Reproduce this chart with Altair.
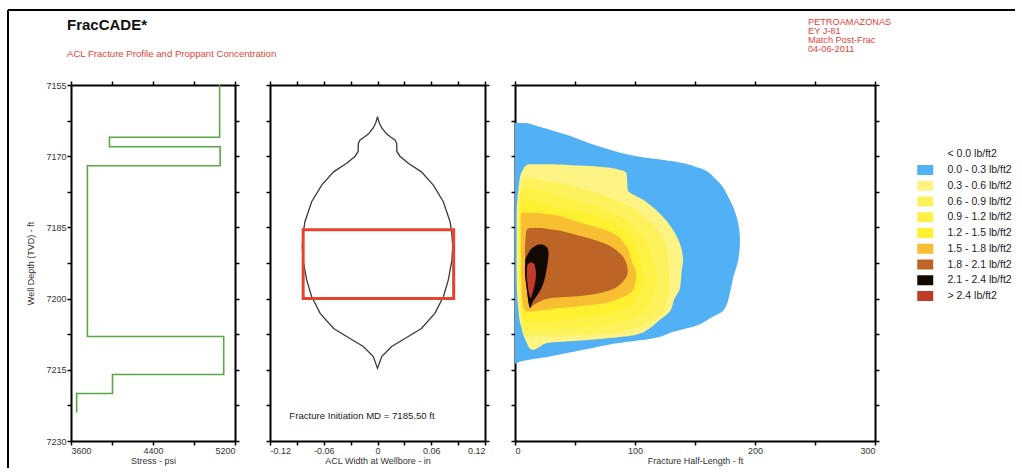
import altair as alt
import pandas as pd
import numpy as np

FONT = "Liberation Sans"

# ---------------- data ----------------
# stress profile (step layers)
layer_top = [7155, 7166, 7168, 7172, 7208, 7216, 7220]
layer_bot = [7166, 7168, 7172, 7208, 7216, 7220, 7224]
stress_psi = [5050, 3975, 5055, 3760, 5090, 4005, 3655]

# ACL width profile (half width, symmetric)
width_depth = [7161.7, 7163.0, 7164.1, 7165.3, 7166.0, 7166.6, 7167.3, 7169.0, 7170.0,
               7171.5, 7173.3, 7176.1, 7179.6, 7183.8, 7186.0, 7189.0, 7192.0, 7196.1,
               7199.6, 7203.1, 7206.3, 7208.4, 7210.1, 7212.2, 7214.7]
half_width = [0.0, 0.002, 0.005, 0.010, 0.015, 0.0195, 0.0214, 0.0216, 0.025,
              0.0344, 0.049, 0.0623, 0.0735, 0.081, 0.0828, 0.084, 0.083, 0.079,
              0.0735, 0.064, 0.049, 0.0307, 0.0158, 0.0047, 0.0]

# highlighted interval (red box)
box_left = [-0.083]
box_right = [0.085]
box_top = [7185.5]
box_bottom = [7200.0]

# proppant concentration bands: (depth, left, right) in ft
band_labels = ["< 0.0 lb/ft2", "0.0 - 0.3 lb/ft2", "0.3 - 0.6 lb/ft2", "0.6 - 0.9 lb/ft2",
               "0.9 - 1.2 lb/ft2", "1.2 - 1.5 lb/ft2", "1.5 - 1.8 lb/ft2", "1.8 - 2.1 lb/ft2",
               "2.1 - 2.4 lb/ft2", "> 2.4 lb/ft2"]
band_colors = ["#ffffff", "#52b1f4", "#fdf483", "#fdf25c", "#fef145", "#fff12f",
               "#f8bf33", "#bd6427", "#120903", "#c03c29"]

b1_depth = [7163.0, 7165.5, 7168.0, 7170.1, 7171.2, 7172.5, 7175.0, 7179.2, 7184.1, 7187.7,
            7191.9, 7195.4, 7198.9, 7202.4, 7204.1, 7205.9, 7207.0, 7208.4, 7209.4, 7210.8,
            7212.2, 7213.3, 7213.7]
b1_left = [0] * 23
b1_right = [10, 43, 71, 104, 135, 154, 168, 179, 186, 187.5, 186, 182, 179, 174, 163, 149,
            132, 115, 85, 57, 29, 4, 0.5]

b2_depth = [7171.7, 7172.2, 7172.9, 7173.6, 7177.1, 7179.2, 7182.7, 7187.0, 7191.9, 7194.0,
            7197.8, 7200.0, 7202.7, 7204.8, 7206.2, 7207.6, 7208.3, 7208.9, 7209.4, 7210.1, 7210.8]
b2_left = [11, 8, 6.5, 5, 2.8, 2, 1.4, 1.4, 1.4, 1.4, 1.6, 2.0, 3.0, 4.0, 5.5, 7, 8, 9, 10, 11, 14]
b2_right = [30, 70, 88, 93, 94, 107, 123, 135, 140, 139, 137.5, 133, 129, 119, 112.5, 101,
            79, 51, 26, 21, 16]

b3_depth = [7174.5, 7175.0, 7175.7, 7177.5, 7180.3, 7183.8, 7189.1, 7193.0, 7197.8, 7201.0,
            7203.4, 7205.0, 7206.2, 7207.6, 7208.0]
b3_left = [9, 7, 5.5, 4, 3, 2.5, 2.5, 2.5, 2.8, 3.5, 4.5, 5.5, 6, 7, 8]
b3_right = [14, 22, 37.5, 65, 93, 112.5, 126, 128, 129, 126, 121, 111, 101, 65, 24]

b4_depth = [7176.6, 7177.2, 7178.5, 7180.3, 7182.7, 7186.2, 7191.9, 7195.0, 7198.5, 7201.3,
            7204.1, 7205.9, 7206.6]
b4_left = [7, 5.5, 4.5, 3.8, 3.5, 3.3, 3.3, 3.5, 4, 5, 6, 6.5, 7.5]
b4_right = [10, 22, 37.5, 65, 87.5, 104, 115, 118, 116, 112.5, 99, 65, 29]

b5_depth = [7179.0, 7179.6, 7180.6, 7182.4, 7185.2, 7189.1, 7192.0, 7196.4, 7198.6, 7200.6,
            7203.0, 7204.1, 7204.8]
b5_left = [5.6, 4.8, 4.4, 4.2, 4.2, 4.2, 4.3, 4.6, 5, 5.5, 6.2, 6.8, 7.5]
b5_right = [9, 18, 29, 65, 87.5, 101, 104, 107, 104, 99, 79, 51, 24]

b6_depth = [7181.9, 7182.3, 7183.8, 7185.9, 7189.1, 7191.9, 7195.0, 7197.8, 7199.9, 7201.3,
            7202.0, 7202.7]
b6_left = [6, 4.8, 4.8, 4.8, 4.8, 5, 5.2, 5.5, 6, 6.5, 7, 9]
b6_right = [18, 30, 51.4, 79, 93, 97, 101, 99, 87.5, 65, 37.5, 15]

b7_depth = [7185.1, 7185.6, 7186.6, 7188.3, 7190.5, 7191.9, 7194.3, 7196.4, 7198.5, 7199.5,
            7199.9, 7201.0, 7202.0]
b7_left = [12, 9.5, 9, 8.5, 8.3, 8.3, 8.3, 9, 10, 10.5, 11, 11.5, 12.5]
b7_right = [22, 35, 51.4, 73.6, 87.5, 91.7, 94, 90, 76, 51, 29, 18, 13]

b8_depth = [7188.6, 7189.3, 7190.5, 7192.0, 7194.3, 7196.5, 7197.8, 7199.5, 7200.6, 7202.0]
b8_left = [19, 14.5, 11, 8.5, 8.3, 9, 9.7, 10.5, 11, 12.3]
b8_right = [23, 27, 28, 27.5, 26, 24, 22, 18, 15, 12.8]

b9_depth = [7192.4, 7193.0, 7195.0, 7197.0, 7198.5, 7199.9]
b9_left = [12.5, 10.2, 9.8, 10.5, 11.3, 12.8]
b9_right = [14.5, 16.5, 17.5, 16.5, 15, 13.3]

bands = [(b1_depth, b1_left, b1_right), (b2_depth, b2_left, b2_right),
         (b3_depth, b3_left, b3_right), (b4_depth, b4_left, b4_right),
         (b5_depth, b5_left, b5_right), (b6_depth, b6_left, b6_right),
         (b7_depth, b7_left, b7_right), (b8_depth, b8_left, b8_right),
         (b9_depth, b9_left, b9_right)]

depth_ticks = list(np.arange(7155, 7230.01, 7.5))
stress_ticks = [3600, 4000, 4400, 4800, 5200]
width_ticks = [round(v, 2) for v in np.arange(-0.12, 0.1201, 0.03)]
length_ticks = [0, 50, 100, 150, 200, 250, 300]

# ---------------- frames ----------------
stress_rows = []
k = 0
for t, b, s in zip(layer_top, layer_bot, stress_psi):
    stress_rows.append({"stress": s, "depth": t, "o": k}); k += 1
    stress_rows.append({"stress": s, "depth": b, "o": k}); k += 1
stress_df = pd.DataFrame(stress_rows)

wrows = []
k = 0
for d, w in zip(width_depth, half_width):
    wrows.append({"w": w, "depth": d, "o": k}); k += 1
for d, w in zip(reversed(width_depth), reversed(half_width)):
    wrows.append({"w": -w, "depth": d, "o": k}); k += 1
width_df = pd.DataFrame(wrows)

box_df = pd.DataFrame({"x": box_left, "x2": box_right, "y": box_top, "y2": box_bottom})

band_rows = []
for i, (dd, ll, rr) in enumerate(bands):
    for d, l, r in zip(dd, ll, rr):
        band_rows.append({"band": band_labels[i + 1], "depth": d, "xl": l, "xr": r})
band_df = pd.DataFrame(band_rows)

depth_scale = alt.Scale(domain=[7155, 7230], reverse=True, nice=False, zero=False)
stress_scale = alt.Scale(domain=[3600, 5200], nice=False, zero=False)
width_scale = alt.Scale(domain=[-0.12, 0.12], nice=False, zero=False)
length_scale = alt.Scale(domain=[0, 300], nice=False, zero=False)

dummy = pd.DataFrame({"a": [0]})

def y_axis_plain(labels=True, title=None, orient="left"):
    kw = dict(values=depth_ticks, orient=orient, format="d", grid=False)
    if labels:
        kw["labelExpr"] = "datum.value % 15 == 0 ? datum.label : ''"
        kw["titlePadding"] = 10
    else:
        kw["labels"] = False
    kw["title"] = title
    return alt.Axis(**kw)

def mirror(xfield_scale, xticks, yvals):
    df = pd.DataFrame({"mx": [xfield_scale.domain[0]], "my": [7155]})
    return alt.Chart(df).mark_point(opacity=0).encode(
        x=alt.X("mx:Q", scale=xfield_scale,
                axis=alt.Axis(orient="top", values=xticks, labels=False, title=None)),
        y=alt.Y("my:Q", scale=depth_scale,
                axis=alt.Axis(orient="right", values=yvals, labels=False, title=None)),
    )

# ---------------- left panel ----------------
stress_line = alt.Chart(stress_df).mark_line(color="#5aa845", strokeWidth=1.6).encode(
    x=alt.X("stress:Q", scale=stress_scale,
            axis=alt.Axis(values=stress_ticks, format="d", title="Stress - psi",
                          labelExpr="(datum.value - 3600) % 800 == 0 ? datum.label : ''")),
    y=alt.Y("depth:Q", scale=depth_scale, axis=y_axis_plain(True, "Well Depth (TVD) - ft")),
    order="o:Q",
)

title_main = alt.Chart(dummy).mark_text(
    text="FracCADE*", font=FONT, fontSize=15, fontWeight="bold", color="#111111",
    align="left", baseline="alphabetic").encode(x=alt.value(-4), y=alt.value(-55))
title_sub = alt.Chart(dummy).mark_text(
    text="ACL Fracture Profile and Proppant Concentration", font=FONT, fontSize=9.6,
    color="#e0453a", align="left", baseline="alphabetic").encode(x=alt.value(-4), y=alt.value(-28))
title_right = alt.Chart(dummy).mark_text(
    text=["PETROAMAZONAS", "EY J-81", "Match Post-Frac", "04-06-2011"], font=FONT, fontSize=9.2,
    lineHeight=9, color="#e0453a", align="left", baseline="top").encode(
    x=alt.value(737), y=alt.value(-67))

frame_v = alt.Chart(dummy).mark_rule(color="black", strokeWidth=2).encode(
    x=alt.value(-63), y=alt.value(-75), y2=alt.value(383))
frame_h = alt.Chart(dummy).mark_rule(color="black", strokeWidth=2).encode(
    x=alt.value(-63), x2=alt.value(944), y=alt.value(-75))

left = alt.layer(stress_line, mirror(stress_scale, stress_ticks, depth_ticks),
                 title_main, title_sub, title_right, frame_v, frame_h).resolve_axis(
    x="independent", y="independent").properties(width=164, height=356)

# ---------------- middle panel ----------------
width_label = ("round(datum.value / 0.03) % 2 == 0 ? (abs(datum.value) < 1e-9 ? '0' : "
               "(datum.value < 0 ? '-' + format(-datum.value, '.2f') : format(datum.value, '.2f'))) : ''")
width_line = alt.Chart(width_df).mark_line(color="#3a3a3a", strokeWidth=1.3).encode(
    x=alt.X("w:Q", scale=width_scale,
            axis=alt.Axis(values=width_ticks, title="ACL Width at Wellbore - in",
                          labelExpr=width_label)),
    y=alt.Y("depth:Q", scale=depth_scale, axis=y_axis_plain(False, None)),
    order="o:Q",
)
box = alt.Chart(box_df).mark_rect(fill=None, fillOpacity=0, stroke="#e8432e", strokeWidth=3).encode(
    x=alt.X("x:Q", scale=width_scale, axis=None), x2="x2:Q",
    y=alt.Y("y:Q", scale=depth_scale, axis=None), y2="y2:Q",
)
init_text = alt.Chart(dummy).mark_text(
    text="Fracture Initiation MD = 7185.50 ft", font=FONT, fontSize=9.6, color="#222222",
    align="center", baseline="alphabetic").encode(x=alt.value(92), y=alt.value(334))

mid = alt.layer(width_line, box, init_text, mirror(width_scale, width_ticks, depth_ticks)).resolve_axis(
    x="independent", y="independent").properties(width=215, height=356)

# ---------------- right panel ----------------
color_scale = alt.Scale(domain=band_labels, range=band_colors)
legend = alt.Legend(title=None, orient="none", legendX=849, legendY=64,
                    symbolType="M-1.6,-1H1.6V1H-1.6Z", symbolSize=100, symbolStrokeWidth=0,
                    labelFont=FONT, labelFontSize=10.5, labelColor="#222222",
                    rowPadding=4.75, labelOffset=17, padding=0)

band_layers = []
for i, lab in enumerate(band_labels[1:]):
    if i == 0:
        xax = alt.Axis(values=length_ticks, format="d", title="Fracture Half-Length - ft",
                       labelExpr="datum.value % 100 == 0 ? datum.label : ''")
        yax = y_axis_plain(False, None)
    else:
        xax = None
        yax = None
    band_layers.append(
        alt.Chart(band_df).transform_filter(alt.datum.band == lab).mark_area(
            orient="horizontal", interpolate="monotone", opacity=1).encode(
            y=alt.Y("depth:Q", scale=depth_scale, axis=yax),
            x=alt.X("xl:Q", scale=length_scale, axis=xax),
            x2="xr:Q",
            color=alt.Color("band:N", scale=color_scale, legend=legend),
        )
    )

right = alt.layer(*band_layers, mirror(length_scale, length_ticks, depth_ticks)).resolve_axis(
    x="independent", y="independent").properties(width=360, height=356)

inner = alt.hconcat(mid, right, spacing=30, bounds="flush")
chart = alt.hconcat(left, inner, spacing=35, bounds="flush").properties(
    padding={"left": 7, "top": 9, "right": 0, "bottom": 0},
    background="white",
).configure_view(stroke=None).configure_axis(
    domainColor="black", domainWidth=2, tickColor="black", tickWidth=1.5, tickSize=4,
    labelFont=FONT, labelFontSize=9, labelColor="#333333", labelPadding=1,
    titleFont=FONT, titleFontSize=9, titleFontWeight="normal", titleColor="#333333",
    titlePadding=1, grid=False,
)

chart.save("out.html", embed_options={"renderer": "svg", "actions": False})
